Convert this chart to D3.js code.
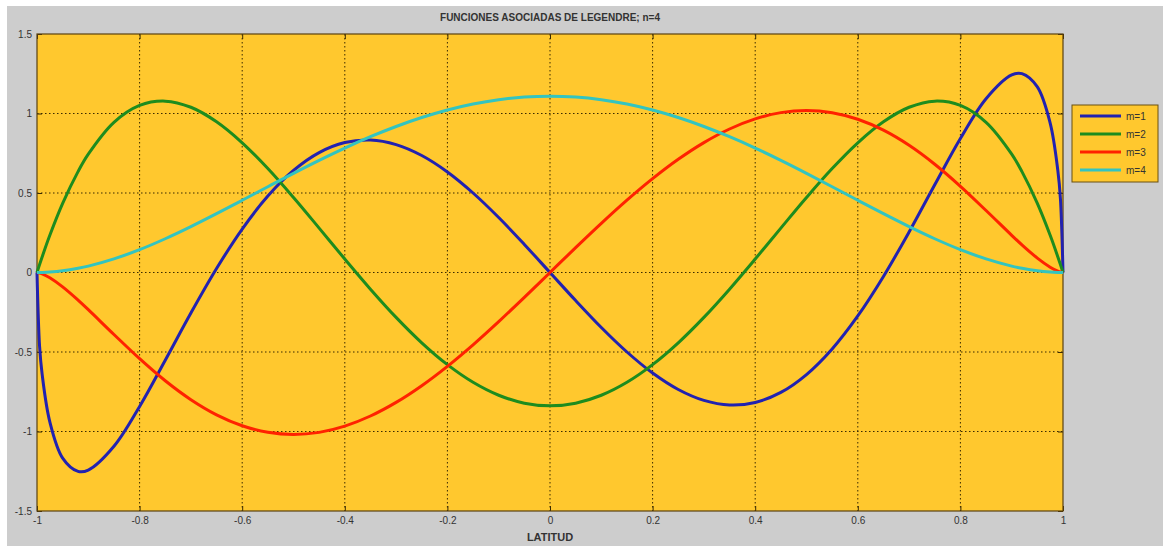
<!DOCTYPE html>
<html><head><meta charset="utf-8">
<script src="https://cdn.jsdelivr.net/npm/d3@7"></script>
<style>
html,body{margin:0;padding:0;background:#fff;}
svg{display:block;}
</style></head>
<body><svg id="chart" width="1163" height="546"></svg>
<script>
const xs = [-1,-0.995,-0.99,-0.975,-0.95,-0.92,-0.9,-0.85,-0.8,-0.75,-0.7,-0.65,-0.6,-0.55,-0.5,-0.45,-0.4,-0.35,-0.3,-0.25,-0.2,-0.15,-0.1,-0.05,0,
  0.05,0.1,0.15,0.2,0.25,0.3,0.35,0.4,0.45,0.5,0.55,0.6,0.65,0.7,0.75,0.8,0.85,0.9,0.92,0.95,0.975,0.99,0.995,1];
const m1 = [0,-0.4632,-0.6395,-0.9390,-1.1671,-1.2507,-1.2423,-1.0926,-0.8425,-0.5516,-0.2549,0.0249,0.2733,0.4808,0.6419,0.7542,0.8174,0.8331,0.8044,0.7357,0.6322,0.5000,0.3458,0.1766,0,
  -0.1766,-0.3458,-0.5000,-0.6322,-0.7357,-0.8044,-0.8331,-0.8174,-0.7542,-0.6419,-0.4808,-0.2733,-0.0249,0.2549,0.5516,0.8425,1.0926,1.2423,1.2507,1.1671,0.9390,0.6395,0.4632,0];
const m2 = [0,0.0496,0.0978,0.2341,0.4347,0.6343,0.7440,0.9441,1.0505,1.0776,1.0392,0.9479,0.8157,0.6536,0.4717,0.2792,0.0845,-0.1048,-0.2823,-0.4422,-0.5796,-0.6905,-0.7720,-0.8218,-0.8385,
  -0.8218,-0.7720,-0.6905,-0.5796,-0.4422,-0.2823,-0.1048,0.0845,0.2792,0.4717,0.6536,0.8157,0.9479,1.0392,1.0776,1.0505,0.9441,0.7440,0.6343,0.4347,0.2341,0.0978,0.0496,0];
const m3 = [0,-0.0031,-0.0087,-0.0336,-0.0907,-0.1737,-0.2338,-0.3898,-0.5421,-0.6808,-0.7998,-0.8949,-0.9637,-1.0051,-1.0188,-1.0054,-0.9660,-0.9025,-0.8170,-0.7119,-0.5901,-0.4548,-0.3090,-0.1563,0,
  0.1563,0.3090,0.4548,0.5901,0.7119,0.8170,0.9025,0.9660,1.0054,1.0188,1.0051,0.9637,0.8949,0.7998,0.6808,0.5421,0.3898,0.2338,0.1737,0.0907,0.0336,0.0087,0.0031,0];
const m4 = [0,0.0001,0.0004,0.0027,0.0105,0.0262,0.0400,0.0854,0.1437,0.2123,0.2885,0.3699,0.4542,0.5395,0.6238,0.7053,0.7825,0.8539,0.9184,0.9747,1.0221,1.0597,1.0869,1.1035,1.109,
  1.1035,1.0869,1.0597,1.0221,0.9747,0.9184,0.8539,0.7825,0.7053,0.6238,0.5395,0.4542,0.3699,0.2885,0.2123,0.1437,0.0854,0.0400,0.0262,0.0105,0.0027,0.0004,0.0001,0];
const seriesNames = ["m=1","m=2","m=3","m=4"];
const xTicks = [-1,-0.8,-0.6,-0.4,-0.2,0,0.2,0.4,0.6,0.8,1];
const yTicks = [-1.5,-1,-0.5,0,0.5,1,1.5];
const titleText = "FUNCIONES ASOCIADAS DE LEGENDRE; n=4";
const xLabelText = "LATITUD";

const colors = ["#2222b0","#1e8c1e","#ff2200","#33c4c0"];
const allSeries = [m1,m2,m3,m4];

const svg = d3.select("#chart");
const W = 1163, H = 546;
const L = 37, R = 1063, T = 34, B = 511;

svg.append("rect").attr("x",0).attr("y",0).attr("width",W).attr("height",H).attr("fill","#fff");
svg.append("rect").attr("x",7).attr("y",6).attr("width",W-7).attr("height",H-6).attr("fill","#cdcdcd");

const x = d3.scaleLinear().domain([-1,1]).range([L,R]);
const y = d3.scaleLinear().domain([-1.5,1.5]).range([B,T]);

svg.append("rect").attr("x",L).attr("y",T).attr("width",R-L).attr("height",B-T).attr("fill","#ffc82e");

// grid
const grid = svg.append("g");
grid.selectAll("line.vx").data(xTicks.slice(1,-1)).enter().append("line")
  .attr("x1",d=>x(d)).attr("x2",d=>x(d)).attr("y1",T).attr("y2",B)
  .attr("stroke","#3a2a00").attr("stroke-width",1).attr("stroke-dasharray","1.5,2.5");
grid.selectAll("line.hy").data(yTicks.slice(1,-1)).enter().append("line")
  .attr("x1",L).attr("x2",R).attr("y1",d=>y(d)).attr("y2",d=>y(d))
  .attr("stroke","#3a2a00").attr("stroke-width",1).attr("stroke-dasharray","1.5,2.5");

// axes
const xAxis = d3.axisBottom(x).tickValues(xTicks).tickSize(0).tickPadding(6).tickFormat(d=>d===0?"0":String(d));
const gx = svg.append("g").attr("transform",`translate(0,${B})`).call(xAxis);
gx.select(".domain").remove();
gx.selectAll("text").attr("font-family","Liberation Sans, Arial, sans-serif").attr("font-size",10).attr("fill","#333");
const xAxisTop = d3.axisTop(x).tickValues(xTicks).tickSize(-5).tickFormat("");
svg.append("g").attr("transform",`translate(0,${T})`).call(xAxisTop).call(g=>g.select(".domain").remove()).selectAll("line").attr("stroke","#3a2a00");
const xAxisB = d3.axisBottom(x).tickValues(xTicks).tickSize(-5).tickFormat("");
svg.append("g").attr("transform",`translate(0,${B})`).call(xAxisB).call(g=>g.select(".domain").remove()).selectAll("line").attr("stroke","#3a2a00");

const yAxis = d3.axisLeft(y).tickValues(yTicks).tickSize(0).tickPadding(5).tickFormat(d=>String(d));
const gy = svg.append("g").attr("transform",`translate(${L},0)`).call(yAxis);
gy.select(".domain").remove();
gy.selectAll("text").attr("font-family","Liberation Sans, Arial, sans-serif").attr("font-size",10).attr("fill","#333");
const yAxisL = d3.axisLeft(y).tickValues(yTicks).tickSize(-5).tickFormat("");
svg.append("g").attr("transform",`translate(${L},0)`).call(yAxisL).call(g=>g.select(".domain").remove()).selectAll("line").attr("stroke","#3a2a00");
const yAxisR = d3.axisRight(y).tickValues(yTicks).tickSize(-5).tickFormat("");
svg.append("g").attr("transform",`translate(${R},0)`).call(yAxisR).call(g=>g.select(".domain").remove()).selectAll("line").attr("stroke","#3a2a00");

// frame
svg.append("rect").attr("x",L).attr("y",T).attr("width",R-L).attr("height",B-T)
  .attr("fill","none").attr("stroke","#5a4210").attr("stroke-width",1.2);

// lines
const line = d3.line().x((d,i)=>x(xs[i])).y(d=>y(d)).curve(d3.curveCatmullRom.alpha(0.5));
const clip = svg.append("clipPath").attr("id","clip").append("rect").attr("x",L-2).attr("y",T).attr("width",R-L+4).attr("height",B-T);
const lg = svg.append("g").attr("clip-path","url(#clip)");
allSeries.forEach((s,k)=>{
  lg.append("path").datum(s).attr("d",line).attr("fill","none")
    .attr("stroke",colors[k]).attr("stroke-width",3).attr("stroke-linejoin","round");
});

// title
svg.append("text").attr("x",(L+R)/2).attr("y",21).attr("text-anchor","middle")
  .attr("font-family","Liberation Sans, Arial, sans-serif").attr("font-size",10).attr("font-weight","bold")
  .attr("fill","#333").text(titleText);
svg.append("text").attr("x",(L+R)/2).attr("y",541).attr("text-anchor","middle")
  .attr("font-family","Liberation Sans, Arial, sans-serif").attr("font-size",11).attr("font-weight","bold")
  .attr("fill","#333").text(xLabelText);

// legend
const lgx = 1072, lgy = 105, lgw = 86, lgh = 77;
svg.append("rect").attr("x",lgx).attr("y",lgy).attr("width",lgw).attr("height",lgh)
  .attr("fill","#ffc82e").attr("stroke","#6a5010").attr("stroke-width",1);
seriesNames.forEach((n,k)=>{
  const yy = lgy + 11 + k*18;
  svg.append("line").attr("x1",lgx+8).attr("x2",lgx+49).attr("y1",yy).attr("y2",yy)
    .attr("stroke",colors[k]).attr("stroke-width",3);
  svg.append("text").attr("x",lgx+54).attr("y",yy+4)
    .attr("font-family","Liberation Sans, Arial, sans-serif").attr("font-size",10).attr("fill","#333").text(n);
});
</script>
</body></html>
